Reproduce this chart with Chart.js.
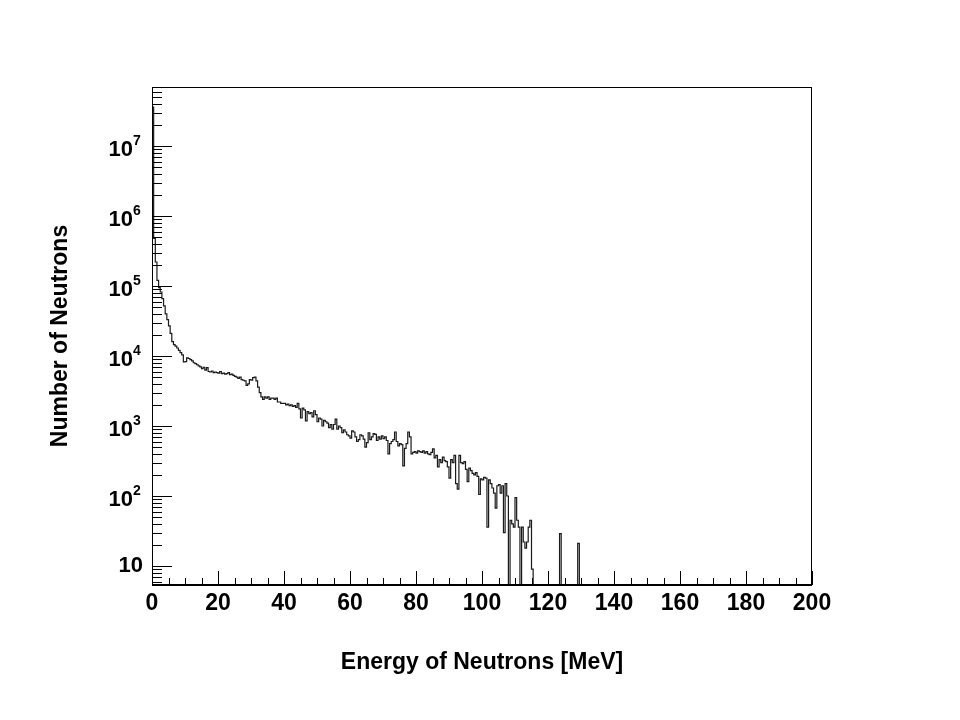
<!DOCTYPE html>
<html>
<head>
<meta charset="utf-8">
<title>Energy of Neutrons</title>
<script src="https://cdn.jsdelivr.net/npm/chart.js@4.4.1/dist/chart.umd.min.js"></script>
<style>
  body { margin: 0; background: #fff; }
  canvas { display: block; }
</style>
</head>
<body>
<canvas id="neutronChart" width="960" height="720"></canvas>
<script>
// Histogramm: Bin-Breite 0.5 MeV, Inhalt pro Bin
const binWidth = 0.5;
const counts = [
  3.6e7, 4.8e5, 2.2e5, 1.2e5, 9.5e4, 8.2e4, 6.6e4, 5.2e4, 4.0e4, 3.3e4,
  2.7e4, 2.1e4, 1.6e4, 1.45e4, 1.38e4, 1.3e4, 1.2e4, 1.12e4, 1.04e4, 8200,
  8300, 9400, 9200, 8900, 8500, 8000, 7800, 7500, 7200, 7000,
  6600, 6900, 6300, 6800, 6000, 5900, 6100, 5800, 5900, 5800,
  5700, 6000, 5600, 5700, 5500, 5600, 5800, 5400, 5500, 5300,
  5100, 5000, 4800, 5000, 4600, 4500, 4400, 3800, 4000, 4600,
  4500, 4900, 5000, 4400, 3600, 3000, 2600, 2400, 2600, 2500,
  2600, 2400, 2500, 2500, 2400, 2500, 2200, 2200, 2100, 2100,
  2100, 2000, 2050, 1950, 2000, 1900, 1950, 1850, 2100, 1750,
  1300, 1800, 1700, 1180, 1600, 1500, 1550, 1350, 1650, 1450,
  1150, 1300, 1250, 1000, 1200, 1150, 1100, 950, 1050, 900,
  1050, 1250, 900, 1000, 950, 800, 880, 820, 750, 720,
  670, 850, 820, 700, 600, 640, 750, 720, 650, 500,
  580, 800, 640, 700, 780, 760, 620, 700, 650, 720,
  660, 700, 620, 400, 560, 600, 640, 820, 600, 520,
  560, 540, 270, 480, 560, 820, 700, 400, 420, 430,
  410, 440, 430, 420, 440, 410, 430, 400, 390, 420,
  470, 350, 380, 260, 330, 300, 360, 320, 310, 260,
  180, 330, 300, 380, 150, 125, 380, 300, 290, 310,
  240, 160, 250, 230, 210, 200, 215, 190, 105, 175,
  170, 185, 180, 36, 170, 150, 130, 110, 67, 140,
  145, 110, 140, 30, 150, 100, 0, 45, 40, 36,
  95, 45, 36, 0, 36, 22, 18, 22, 36, 45,
  9, 0, 0, 0, 0, 0, 0, 0, 0, 0,
  0, 0, 0, 0, 0, 0, 0, 29, 0, 0,
  0, 0, 0, 0, 0, 0, 0, 0, 21
];

const xMin = 0, xMax = 200, xStep = 20;
const yMin = 5.35, yMax = 6.96e7;
const yTickValues = [10, 1e2, 1e3, 1e4, 1e5, 1e6, 1e7];
const yTickExponents = ['', '2', '3', '4', '5', '6', '7'];

const fontFamily = "'Liberation Sans', Arial, Helvetica, sans-serif";
const labelFont = { family: fontFamily, size: 23, weight: 'bold' };

// Punkte an den linken Bin-Kanten, leere Bins auf die Achse
const points = counts.map((c, i) => ({ x: i * binWidth, y: c > 0 ? c : yMin }));
points.push({ x: counts.length * binWidth, y: yMin });

// ROOT-artiger Rahmen mit Ticks nach innen, y-Beschriftung als 10^n
const frameTicks = {
  id: 'frameTicks',
  afterDraw(chart) {
    const { ctx, chartArea: a, scales: { x, y } } = chart;
    ctx.save();
    ctx.strokeStyle = '#000';
    ctx.lineWidth = 1;
    ctx.strokeRect(a.left + 0.5, a.top + 0.5, a.right - a.left - 1, a.bottom - a.top);

    // y: Dekaden lang, 2..9 kurz
    ctx.beginPath();
    for (let d = 0; d <= 7; d++) {
      for (let m = 1; m <= 9; m++) {
        const v = m * Math.pow(10, d);
        if (v < y.min || v > y.max) continue;
        const py = Math.round(y.getPixelForValue(v)) + 0.5;
        const len = m === 1 ? 20 : 10;
        ctx.moveTo(a.left, py);
        ctx.lineTo(a.left + len, py);
      }
    }
    // x: alle 20 lang, alle 5 kurz
    for (let e = xMin; e <= xMax; e += 5) {
      const px = Math.round(x.getPixelForValue(e)) + 0.5;
      const len = e % xStep === 0 ? 14 : 7;
      ctx.moveTo(px, a.bottom);
      ctx.lineTo(px, a.bottom - len);
    }
    ctx.stroke();

    // untere Achse etwas kräftiger
    ctx.lineWidth = 2;
    ctx.beginPath();
    ctx.moveTo(a.left, a.bottom);
    ctx.lineTo(a.right, a.bottom);
    ctx.stroke();

    // y-Beschriftung: "10" mit hochgestelltem Exponenten
    ctx.fillStyle = '#000';
    ctx.textBaseline = 'middle';
    yTickValues.forEach((v, i) => {
      const py = y.getPixelForValue(v);
      const exp = yTickExponents[i];
      ctx.font = 'bold 22px ' + fontFamily;
      ctx.textAlign = 'right';
      if (!exp) {
        ctx.fillText('10', a.left - 9, py);
        return;
      }
      ctx.fillText('10', a.left - 19, py + 4);
      ctx.font = 'bold 14px ' + fontFamily;
      ctx.textAlign = 'left';
      ctx.fillText(exp, a.left - 19, py - 5);
    });
    ctx.restore();
  }
};

const ctx = document.getElementById('neutronChart').getContext('2d');
window.neutronChart = new Chart(ctx, {
  type: 'line',
  data: {
    datasets: [{
      label: 'Neutronen',
      data: points,
      stepped: true,
      borderColor: '#1a1a1a',
      borderWidth: 1.2,
      pointRadius: 0,
      fill: false
    }]
  },
  options: {
    responsive: false,
    animation: false,
    layout: { padding: { top: 87, right: 148, left: 0, bottom: 0 } },
    plugins: {
      legend: { display: false },
      tooltip: { enabled: false }
    },
    scales: {
      x: {
        type: 'linear',
        min: xMin,
        max: xMax,
        grid: { display: false, drawTicks: false },
        border: { display: false },
        ticks: { stepSize: xStep, padding: 5, color: '#000', font: labelFont, maxRotation: 0, autoSkip: false },
        title: {
          display: true,
          text: 'Energy of Neutrons [MeV]',
          color: '#000',
          font: labelFont,
          padding: { top: 0, bottom: 44 }
        },
        afterFit(scale) { scale.height = 135; }
      },
      y: {
        type: 'logarithmic',
        min: yMin,
        max: yMax,
        grid: { display: false, drawTicks: false },
        border: { display: false },
        afterBuildTicks(scale) {
          scale.ticks = yTickValues.map(v => ({ value: v }));
        },
        ticks: { display: false },
        title: {
          display: true,
          text: 'Number of Neutrons',
          color: '#000',
          font: labelFont,
          padding: { top: 47, bottom: 0 }
        },
        afterFit(scale) { scale.width = 152; }
      }
    }
  },
  plugins: [frameTicks]
});
</script>
</body>
</html>
